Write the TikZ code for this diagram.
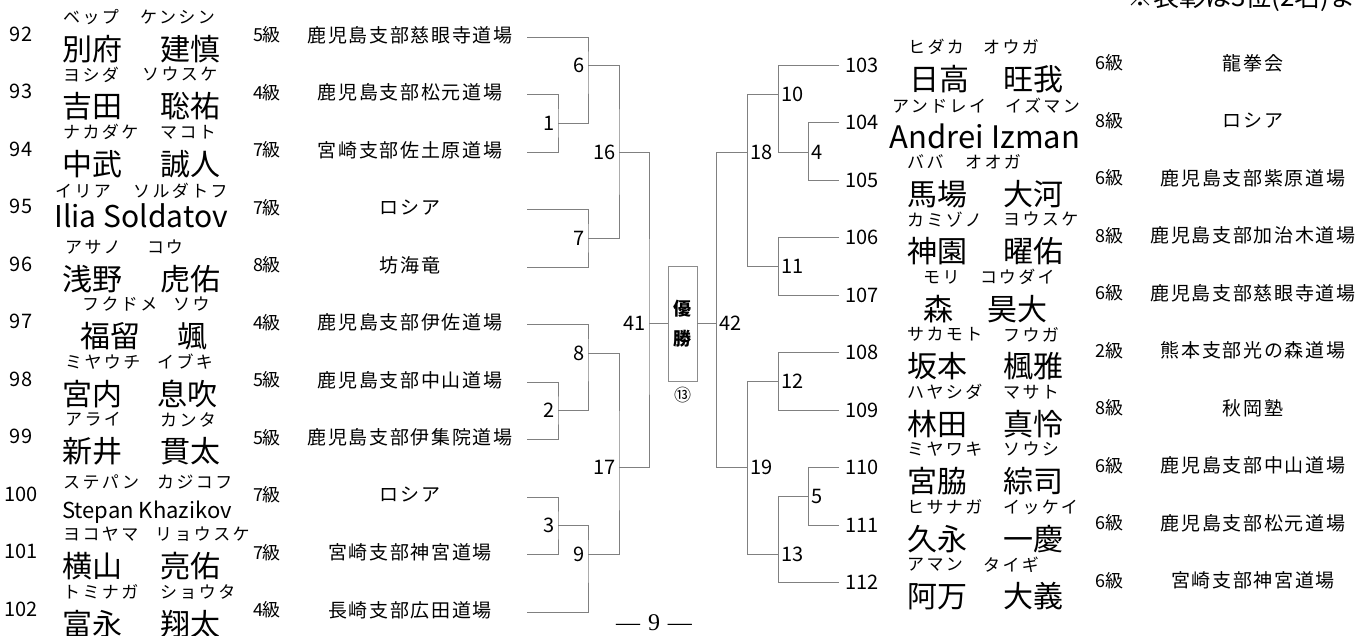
\documentclass[tikz,border=0pt]{standalone}
\usepackage{fontspec}
\setmainfont{Noto Sans CJK JP}
\newfontfamily\kanafont[LetterSpace=14]{Noto Sans CJK JP}
\newfontfamily\dojofont[LetterSpace=9]{Noto Sans CJK JP}
\newfontfamily\pagefont{Liberation Serif}
\usetikzlibrary{positioning}

\tikzset{
  bline/.style={draw=black!50, line width=0.9pt},
  seedno/.style={font=\fontsize{20}{22}\selectfont, inner sep=0pt},
  grade/.style={font=\fontsize{18}{20}\selectfont, inner sep=0pt},
  dojo/.style={font=\dojofont\fontsize{19}{21}\selectfont, inner sep=0pt},
  kana/.style={font=\kanafont\fontsize{17}{19}\selectfont, inner sep=0pt, anchor=west},
  kanji/.style={font=\fontsize{30}{32}\selectfont, inner sep=0pt, anchor=west},
  latname/.style={font=\fontsize{#1}{#1}\selectfont, inner sep=0pt},
  mlabel/.style={font=\fontsize{20}{22}\selectfont, inner sep=3pt},
}

\begin{document}
\begin{tikzpicture}[x=1pt,y=-1pt]
      \useasboundingbox (0,0) rectangle (1359,636);
      \def\rowh{57.5}

      % left block 92-102
      \foreach \n/\g/\dname [count=\i from 0] in {92/5/鹿児島支部慈眼寺道場, 93/4/鹿児島支部松元道場,
          94/7/宮崎支部佐土原道場, 95/7/ロシア, 96/8/坊海竜, 97/4/鹿児島支部伊佐道場,
          98/5/鹿児島支部中山道場, 99/5/鹿児島支部伊集院道場, 100/7/ロシア,
          101/7/宮崎支部神宮道場, 102/4/長崎支部広田道場} {
        \coordinate (s\n) at (527,37+\rowh*\i);
        \node[seedno] (no\n) at (21,34+\rowh*\i) {\n};
        \node[grade] (gr\n) at (267,35+\rowh*\i) {\g 級};
        \node[dojo] (dj\n) at (410,35+\rowh*\i) {\dname};
      }
      \foreach \n/\ka/\kax/\kb/\kbx/\fa/\fax/\fb/\fbx in {
          92/ベップ/63/ケンシン/140/別府/62/建慎/160,
          93/ヨシダ/63/ソウスケ/142/吉田/62/聡祐/160,
          94/ナカダケ/63/マコト/160/中武/62/誠人/160,
          96/アサノ/65/コウ/147/浅野/62/虎佑/160,
          97/フクドメ/82/ソウ/173/福留/80/颯/177,
          98/ミヤウチ/65/イブキ/157/宮内/62/息吹/157,
          99/アライ/65/カンタ/160/新井/62/貫太/160,
          101/ヨコヤマ/63/リョウスケ/155/横山/62/亮佑/160,
          102/トミナガ/63/ショウタ/160/富永/62/翔太/160} {
        \node[kana] (ka\n) at (\kax,{17+\rowh*(\n-92)}) {\ka};
        \node[kana] (kb\n) at (\kbx,{17+\rowh*(\n-92)}) {\kb};
        \node[kanji] (fa\n) at (\fax,{49+\rowh*(\n-92)}) {\fa};
        \node[kanji] (fb\n) at (\fbx,{49+\rowh*(\n-92)}) {\fb};
      }
      \node[kana] (ka95) at (55,191) {イリア};
      \node[kana] (kb95) at (133,191) {ソルダトフ};
      \node[latname=30] (fn95) at (141,216) {Ilia Soldatov};
      \node[kana] (ka100) at (63,482) {ステパン};
      \node[kana] (kb100) at (157,482) {カジコフ};
      \node[latname=22] (fn100) at (147,512) {Stepan Khazikov};

      % right block 103-112
      \foreach \n/\g/\dname [count=\i from 0] in {103/6/龍拳会, 104/8/ロシア, 105/6/鹿児島支部紫原道場,
          106/8/鹿児島支部加治木道場, 107/6/鹿児島支部慈眼寺道場, 108/2/熊本支部光の森道場,
          109/8/秋岡塾, 110/6/鹿児島支部中山道場, 111/6/鹿児島支部松元道場, 112/6/宮崎支部神宮道場} {
        \coordinate (s\n) at (839,65+\rowh*\i);
        \node[seedno] (no\n) at (862,65+\rowh*\i) {\n};
        \node[grade] (gr\n) at (1109,63+\rowh*\i) {\g 級};
        \node[dojo] (dj\n) at (1253,63+\rowh*\i) {\dname};
      }
      \foreach \n/\ka/\kax/\kb/\kbx/\fa/\fax/\fb/\fbx in {
          103/ヒダカ/908/オウガ/983/日高/909/旺我/1003,
          105/ババ/907/オオガ/965/馬場/907/大河/1003,
          106/カミゾノ/907/ヨウスケ/1003/神園/907/曜佑/1003,
          107/モリ/923/コウダイ/980/森/923/昊大/987,
          108/サカモト/907/フウガ/1003/坂本/907/楓雅/1003,
          109/ハヤシダ/907/マサト/1003/林田/907/真怜/1003,
          110/ミヤワキ/907/ソウシ/1003/宮脇/907/綜司/1003,
          111/ヒサナガ/907/イッケイ/1003/久永/907/一慶/1003,
          112/アマン/907/タイギ/983/阿万/907/大義/1003} {
        \node[kana] (ka\n) at (\kax,{47+\rowh*(\n-103)}) {\ka};
        \node[kana] (kb\n) at (\kbx,{47+\rowh*(\n-103)}) {\kb};
        \node[kanji] (fa\n) at (\fax,{79+\rowh*(\n-103)}) {\fa};
        \node[kanji] (fb\n) at (\fbx,{79+\rowh*(\n-103)}) {\fb};
      }
      \node[kana] (ka104) at (892,106) {アンドレイ};
      \node[kana] (kb104) at (1005,106) {イズマン};
      \node[latname=31] (fn104) at (985,136) {Andrei Izman};

      % match points
      \coordinate (m1) at (558,123);   \coordinate (m6) at (588,65);
      \coordinate (m7) at (588,238);   \coordinate (m16) at (619,152);
      \coordinate (m2) at (558,410);   \coordinate (m8) at (588,353);
      \coordinate (m3) at (558,525);   \coordinate (m9) at (588,554);
      \coordinate (m17) at (619,467);  \coordinate (m41) at (649,323.5);
      \coordinate (m4) at (808,152);   \coordinate (m10) at (778,94);
      \coordinate (m11) at (778,266);  \coordinate (m18) at (747,152);
      \coordinate (m12) at (778,381);  \coordinate (m5) at (808,496);
      \coordinate (m13) at (778,554);  \coordinate (m19) at (747,467);
      \coordinate (m42) at (716,323.5);

      \node[draw=black!45, line width=0.8pt, minimum width=29pt, minimum height=115pt, inner sep=0pt,
            font=\bfseries\fontsize{18}{30}\selectfont, align=center] (champ) at (682.5,323.5) {優\\勝};
      \node[font=\fontsize{17}{18}\selectfont, inner sep=0pt, below=6pt of champ] (seat) {⑬};

      \draw[bline] (s93) -| (m1) |- (s94);
      \draw[bline] (s92) -| (m6) |- (m1);
      \draw[bline] (s95) -| (m7) |- (s96);
      \draw[bline] (m6) -| (m16) |- (m7);
      \draw[bline] (s98) -| (m2) |- (s99);
      \draw[bline] (s97) -| (m8) |- (m2);
      \draw[bline] (s100) -| (m3) |- (s101);
      \draw[bline] (m3) -| (m9) |- (s102);
      \draw[bline] (m8) -| (m17) |- (m9);
      \draw[bline] (m16) -| (m41) |- (m17);
      \draw[bline] (m41) -- (champ);

      \draw[bline] (s104) -| (m4) |- (s105);
      \draw[bline] (s103) -| (m10) |- (m4);
      \draw[bline] (s106) -| (m11) |- (s107);
      \draw[bline] (m10) -| (m18) |- (m11);
      \draw[bline] (s108) -| (m12) |- (s109);
      \draw[bline] (s110) -| (m5) |- (s111);
      \draw[bline] (m5) -| (m13) |- (s112);
      \draw[bline] (m12) -| (m19) |- (m13);
      \draw[bline] (m18) -| (m42) |- (m19);
      \draw[bline] (champ) -- (m42);

      \foreach \m in {1,2,3,6,7,8,9,16,17,41}
        \node[mlabel, left] (lb\m) at (m\m) {\m};
      \foreach \m in {4,5,10,11,12,13,18,19,42}
        \node[mlabel, right] (lb\m) at (m\m) {\m};

      \node[font=\pagefont\fontsize{24}{26}\selectfont, inner sep=0pt] (pageno) at (654,623) {—\hspace{8pt}9\hspace{8pt}—};
      \node[anchor=base west, font=\fontsize{26}{28}\selectfont, inner sep=0pt] (note) at (1127,7) {※表彰は3位(2名)まで};
\end{tikzpicture}
\end{document}
